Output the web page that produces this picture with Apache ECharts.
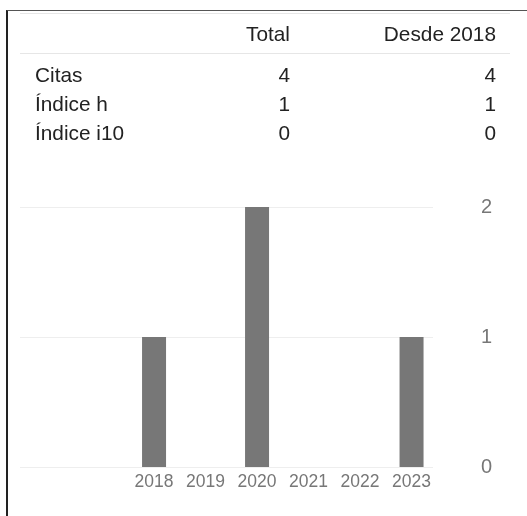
<!DOCTYPE html>
<html>
<head>
<meta charset="utf-8">
<script src="https://cdn.jsdelivr.net/npm/echarts@6/dist/echarts.min.js"></script>
<style>
  html, body { margin: 0; padding: 0; background: #fff; }
  body { width: 527px; height: 516px; position: relative; overflow: hidden; font-family: 'Liberation Sans', Arial, sans-serif; }
  #frame { position: absolute; left: 6px; top: 10px; right: 0; bottom: 0; border-left: 2px solid #222; border-top: 1px solid #555; }
  #chart { position: absolute; left: 0; top: 0; width: 527px; height: 516px; }
  .rule { position: absolute; left: 20px; width: 490px; height: 1px; background: #e6e6e6; }
  .cell { position: absolute; font-size: 20.8px; color: #222; line-height: 24px; white-space: nowrap; }
  .num { text-align: right; }
</style>
</head>
<body>
<div id="frame"></div>
<div id="chart"></div>
<div id="stats"></div>
<script>
// citation summary table
const statColumns = ['Total', 'Desde 2018']
const statLabels = ['Citas', 'Índice h', 'Índice i10']
const statTotal = [4, 1, 0]
const statSince = [4, 1, 0]

// citations per year
const years = ['2018', '2019', '2020', '2021', '2022', '2023']
const citations = [1, 0, 2, 0, 0, 1]
const yTicks = [0, 1, 2]

const stats = document.getElementById('stats')
function addCell(text, x, y, right) {
  const el = document.createElement('div')
  el.className = 'cell' + (right ? ' num' : '')
  el.textContent = text
  if (right) { el.style.right = (527 - x) + 'px' } else { el.style.left = x + 'px' }
  el.style.top = (y - 12) + 'px'
  stats.appendChild(el)
}
function addRule(y) {
  const el = document.createElement('div')
  el.className = 'rule'
  el.style.top = y + 'px'
  stats.appendChild(el)
}
addRule(13)
addRule(53)
addCell(statColumns[0], 290, 34, true)
addCell(statColumns[1], 496, 34, true)
statLabels.forEach((label, i) => {
  const y = 75 + i * 29
  addCell(label, 35, y, false)
  addCell(String(statTotal[i]), 290, y, true)
  addCell(String(statSince[i]), 496, y, true)
})

const chart = echarts.init(document.getElementById('chart'), null, { renderer: 'canvas' })
const labelFont = "'Liberation Sans', Arial, sans-serif"
chart.setOption({
  animation: false,
  grid: [
    { left: 20, right: 94, top: 207, bottom: 49 },
    { left: 128.3, right: 89.7, top: 207, bottom: 49 },
  ],
  xAxis: [
    { gridIndex: 0, type: 'value', show: false, min: 0, max: 1 },
    {
      gridIndex: 1,
      type: 'category',
      data: years,
      axisLine: { show: false },
      axisTick: { show: false },
      axisLabel: { color: '#777', fontSize: 17.5, fontFamily: labelFont, margin: 6 },
    },
  ],
  yAxis: [
    {
      gridIndex: 0,
      type: 'value',
      position: 'right',
      min: yTicks[0],
      max: yTicks[yTicks.length - 1],
      interval: 1,
      axisLine: { show: false },
      axisTick: { show: false },
      splitLine: { lineStyle: { color: '#eeeeee', width: 1 } },
      axisLabel: { color: '#777', fontSize: 20, fontFamily: labelFont, margin: 48, padding: [4, 0, 0, 0] },
    },
    { gridIndex: 1, type: 'value', show: false, min: 0, max: 2, splitLine: { show: false } },
  ],
  series: [
    {
      type: 'bar',
      xAxisIndex: 1,
      yAxisIndex: 1,
      data: citations,
      barWidth: 24,
      itemStyle: { color: '#777777' },
    },
  ],
})
</script>
</body>
</html>
